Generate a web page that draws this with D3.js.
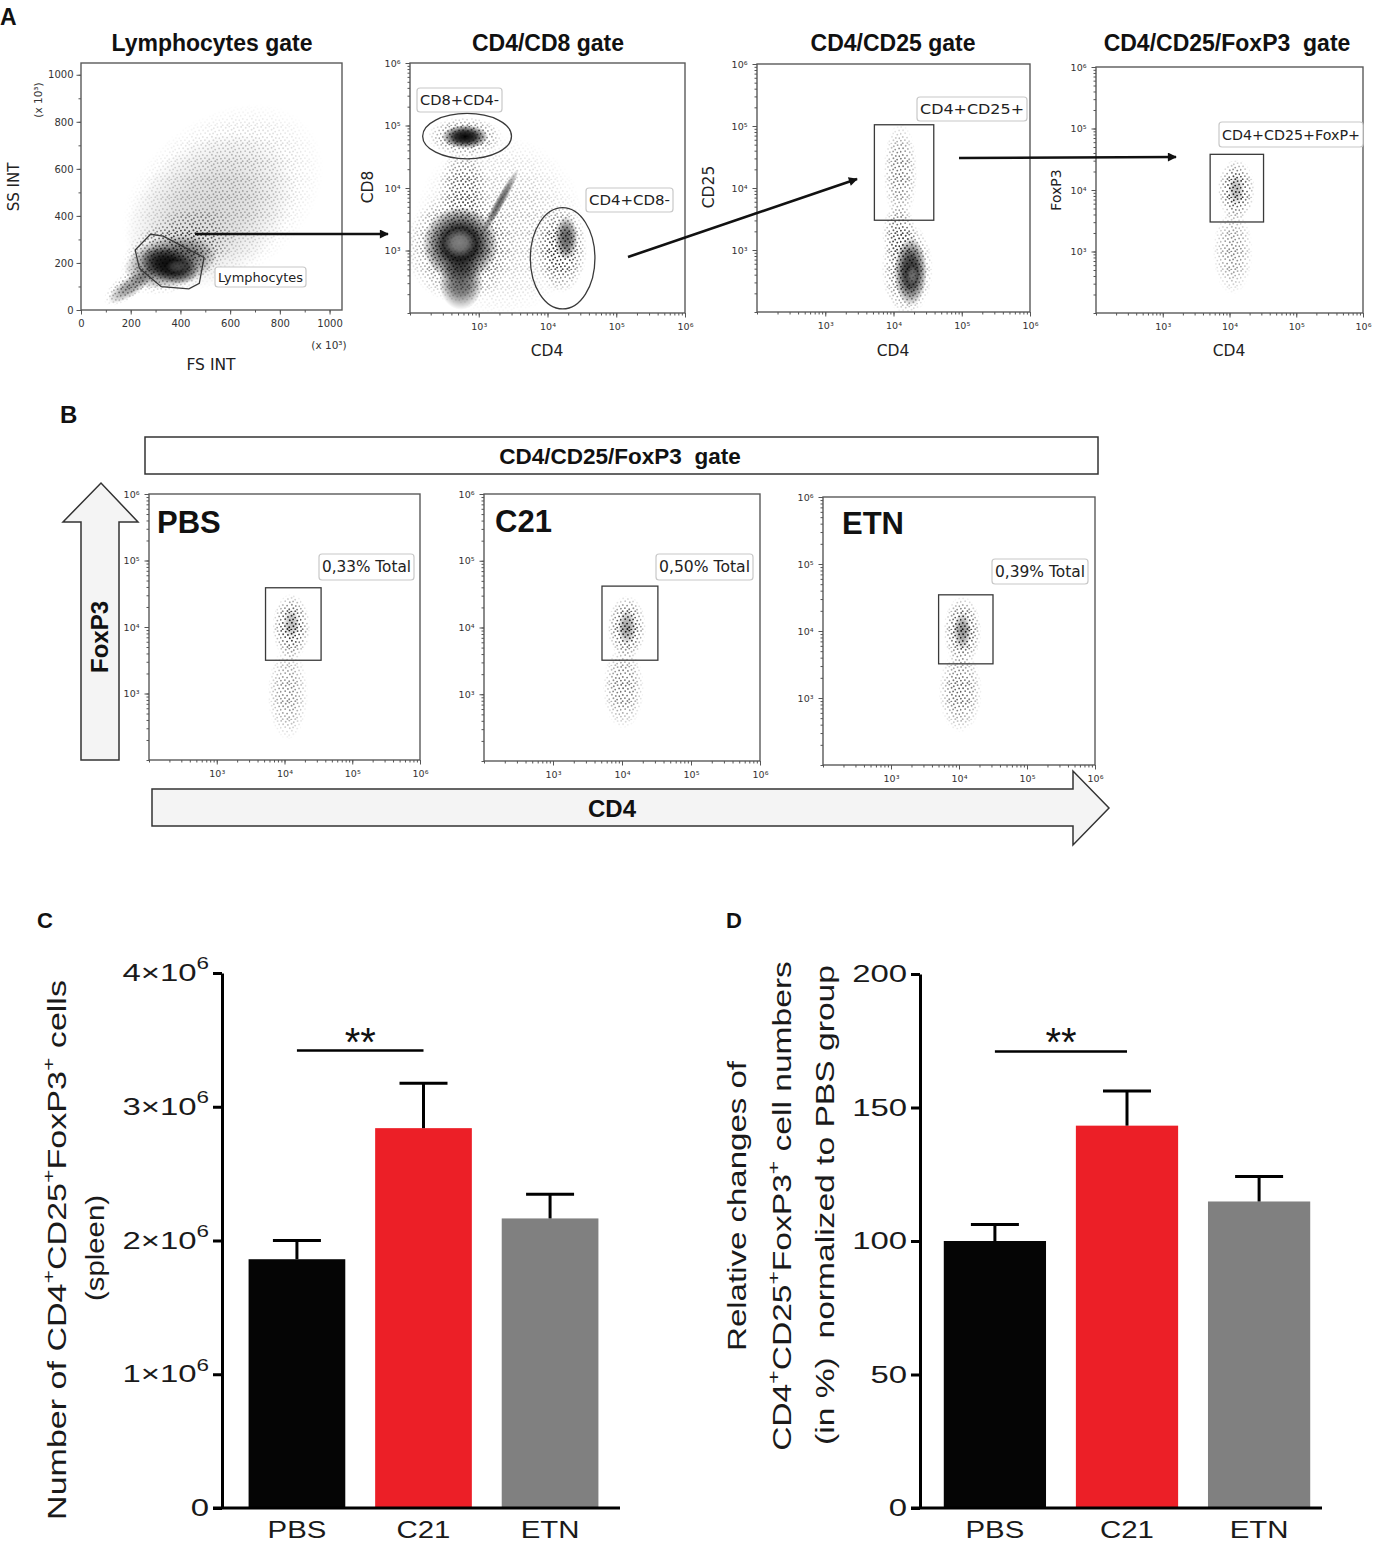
<!DOCTYPE html>
<html>
<head>
<meta charset="utf-8">
<script src="https://cdn.jsdelivr.net/npm/d3@7"></script>
<style>
  body { margin: 0; background: #fff; }
  svg { display: block; }
  svg text { white-space: pre; }
</style>
</head>
<body>
<svg id="fig" width="1373" height="1544"></svg>
<script>
// ---------- data ----------
// panel C / D bar charts
const groups = ['PBS', 'C21', 'ETN'];
const cellCount = [1.86e6, 2.84e6, 2.165e6];
const cellCountErr = [0.14e6, 0.336e6, 0.18e6];
const relChange = [100, 143.2, 114.8];
const relChangeErr = [6.2, 13, 9.4];
const countTicks = [0, 1e6, 2e6, 3e6, 4e6];
const relTicks = [0, 50, 100, 150, 200];
const barColors = ['#050505', '#ec1f27', '#808080'];
const countSig = ['PBS', 'C21', 3.42e6, '**'];
const relSig = ['PBS', 'C21', 171, '**'];

// panel A/B flow plots: density clouds [x, y, rx, ry, rotation, density, kind]
// lymphocytes plot in x10^3 units, the others in log10 units
const lymphClouds = [
  [570, 480, 450, 340, -38, 0.35, 'speck'],
  [520, 420, 380, 290, -38, 0.14, 'smooth'],
  [390, 250, 250, 160, -28, 0.85, 'speck'],
  [360, 205, 190, 110, -12, 0.65, 'smooth'],
  [355, 190, 120, 72, 18, 0.9, 'smooth'],
  [205, 105, 115, 40, -36, 0.4, 'smooth'],
  [200, 110, 130, 55, -36, 0.6, 'speck'],
  [385, 185, 45, 28, 0, 0.2, 'light']
];
const lymphGate = [[280, 322], [331, 314], [495, 223], [476, 113], [434, 90], [323, 99], [235, 177], [218, 255]];

const cd8Clouds = [
  [3.3, 3.4, 1.25, 1.45, 0, 0.35, 'speck'],
  [2.73, 3.05, 0.8, 0.9, 0, 0.95, 'speck'],
  [2.73, 3.1, 0.55, 0.6, 0, 1, 'smooth'],
  [2.74, 2.5, 0.32, 0.45, 0, 0.6, 'smooth'],
  [2.78, 4.0, 0.38, 0.6, 0, 0.7, 'speck'],
  [2.8, 4.82, 0.34, 0.19, 0, 1, 'smooth'],
  [2.8, 4.82, 0.55, 0.32, 0, 0.85, 'speck'],
  [3.31, 3.78, 0.55, 0.075, -61, 0.6, 'smooth'],
  [4.2, 3.02, 0.38, 0.7, 0, 1, 'speck'],
  [4.27, 3.2, 0.17, 0.35, 0, 0.6, 'smooth'],
  [2.72, 3.12, 0.24, 0.24, 0, 0.5, 'light']
];
const cd8Gates = [[2.83, 4.83, 0.646, 0.363], [4.22, 2.875, 0.47, 0.81]];

const cd25Clouds = [
  [4.2, 2.7, 0.38, 0.75, 0, 0.95, 'speck'],
  [4.25, 2.65, 0.24, 0.55, 0, 0.85, 'smooth'],
  [4.08, 3.25, 0.25, 0.5, 0, 0.75, 'speck'],
  [4.1, 4.25, 0.25, 0.8, 0, 0.65, 'speck'],
  [4.27, 2.6, 0.08, 0.16, 0, 0.3, 'light']
];
const cd25Gate = [3.72, 4.59, 3.48, 5.02];

const foxClouds = [
  [4.1, 4.0, 0.28, 0.5, 0, 1, 'speck'],
  [4.1, 4.0, 0.12, 0.24, 0, 0.25, 'smooth'],
  [4.05, 3.0, 0.3, 0.7, 0, 0.55, 'speck']
];
const foxGate = [3.71, 4.51, 3.48, 4.58];

const bGroups = ['PBS', 'C21', 'ETN'];
const bPercent = ['0,33% Total', '0,50% Total', '0,39% Total'];
const bClouds = [
  [[4.1, 4.0, 0.28, 0.5, 0, 1, 'speck'], [4.1, 4.05, 0.12, 0.22, 0, 0.25, 'smooth'], [4.05, 3.0, 0.3, 0.7, 0, 0.55, 'speck']],
  [[4.07, 4.0, 0.28, 0.48, 0, 1, 'speck'], [4.07, 4.0, 0.13, 0.26, 0, 0.35, 'smooth'], [4.02, 3.1, 0.3, 0.62, 0, 0.65, 'speck']],
  [[4.05, 4.0, 0.28, 0.52, 0, 1, 'speck'], [4.05, 4.0, 0.13, 0.28, 0, 0.4, 'smooth'], [4.02, 3.1, 0.32, 0.62, 0, 0.7, 'speck']]
];
const bGates = [[3.72, 4.54, 3.5, 4.59], [3.71, 4.52, 3.51, 4.62], [3.70, 4.50, 3.51, 4.54]];

const logMajor = [1e3, 1e4, 1e5, 1e6];
const linMajor = [0, 200, 400, 600, 800, 1000];

// ---------- setup ----------
const svg = d3.select('#fig');
const defs = svg.append('defs');
const ARIAL = '"Liberation Sans", Arial, Helvetica, sans-serif';
const DEJA = '"DejaVu Sans", Verdana, sans-serif';
const sup = {2: '²', 3: '³', 4: '⁴', 5: '⁵', 6: '⁶'};

function gradient(id, color) {
  const gr = defs.append('radialGradient').attr('id', id);
  [[0, 1], [0.45, 0.8], [0.75, 0.38], [1, 0]].forEach(s =>
    gr.append('stop').attr('offset', s[0]).attr('stop-color', color).attr('stop-opacity', s[1]));
}
gradient('fade', '#000');
gradient('fadeW', '#fff');

// jittered dot tile for the speckled event clouds
const speck = defs.append('pattern').attr('id', 'speck')
  .attr('patternUnits', 'userSpaceOnUse').attr('width', 20).attr('height', 18);
[[1.2, 0.9], [5.7, 1.8], [9.3, 0.6], [13.8, 2.2], [17.6, 1.1],
 [3.1, 4.3], [7.9, 4.9], [11.6, 3.8], [15.2, 5.6], [19.1, 4.4],
 [0.6, 7.8], [5.2, 7.1], [9.8, 8.3], [13.1, 7.4], [17.3, 8.6],
 [2.8, 10.9], [7.1, 11.6], [11.9, 10.7], [15.8, 11.9], [19.4, 12.3],
 [0.9, 14.6], [4.9, 14.1], [9.2, 15.3], [13.4, 14.2], [17.1, 15.6],
 [2.7, 17.3], [7.4, 17.0], [11.3, 17.6], [15.3, 17.2]]
  .forEach(p => speck.append('circle').attr('cx', p[0]).attr('cy', p[1]).attr('r', 0.95).attr('fill', '#151515'));

defs.append('marker').attr('id', 'head').attr('viewBox', '0 0 10 10')
  .attr('refX', 9).attr('refY', 5).attr('markerUnits', 'userSpaceOnUse')
  .attr('markerWidth', 11).attr('markerHeight', 9).attr('orient', 'auto')
  .append('path').attr('d', 'M0,0L10,5L0,10Z').attr('fill', '#111');

function rich(t, segs, fs) {
  let up = false;
  segs.forEach(s => {
    const ts = t.append('tspan').text(s[0]);
    if (s[1] && !up) { ts.attr('font-size', fs * 0.68).attr('dy', -fs * 0.5); up = true; }
    else if (!s[1] && up) { ts.attr('dy', fs * 0.5); up = false; }
  });
  return t;
}

let maskN = 0;
function flowPlot(p) {
  const conv = p.log ? (v => Math.pow(10, v)) : (v => v);
  const xs = (p.log ? d3.scaleLog() : d3.scaleLinear()).domain(p.xd).range([p.x0, p.x1]);
  const ys = (p.log ? d3.scaleLog() : d3.scaleLinear()).domain(p.yd).range([p.y1, p.y0]);
  const g = svg.append('g');
  const cid = 'clip' + p.id;
  defs.append('clipPath').attr('id', cid).append('rect')
    .attr('x', p.x0).attr('y', p.y0).attr('width', p.x1 - p.x0).attr('height', p.y1 - p.y0);
  const cg = g.append('g').attr('clip-path', `url(#${cid})`);

  p.clouds.forEach(c => {
    const cx = xs(conv(c[0])), cy = ys(conv(c[1]));
    const rx = xs(conv(c[0] + c[2])) - cx, ry = cy - ys(conv(c[1] + c[3]));
    const tr = `rotate(${c[4]},${cx},${cy})`;
    if (c[6] === 'speck') {
      const mid = 'mask' + (maskN++);
      defs.append('mask').attr('id', mid).attr('maskUnits', 'userSpaceOnUse')
        .attr('x', 0).attr('y', 0).attr('width', 1373).attr('height', 1544)
        .append('ellipse').attr('cx', cx).attr('cy', cy).attr('rx', rx).attr('ry', ry)
        .attr('transform', tr).attr('fill', 'url(#fadeW)').attr('fill-opacity', c[5]);
      cg.append('rect').attr('x', p.x0).attr('y', p.y0).attr('width', p.x1 - p.x0).attr('height', p.y1 - p.y0)
        .attr('fill', 'url(#speck)').attr('mask', `url(#${mid})`);
    } else {
      cg.append('ellipse').attr('cx', cx).attr('cy', cy).attr('rx', rx).attr('ry', ry)
        .attr('transform', tr).attr('opacity', c[5])
        .attr('fill', c[6] === 'light' ? 'url(#fadeW)' : 'url(#fade)');
    }
  });

  // gates
  const gs = {fill: 'none', stroke: '#3a3a3a', 'stroke-width': 1.3};
  const style = sel => Object.entries(gs).forEach(([k, v]) => sel.attr(k, v));
  if (p.poly) style(g.append('polygon').attr('points', p.poly.map(d => [xs(d[0]), ys(d[1])].join(',')).join(' ')));
  (p.ellipses || []).forEach(e => {
    const cx = xs(conv(e[0])), cy = ys(conv(e[1]));
    style(g.append('ellipse').attr('cx', cx).attr('cy', cy)
      .attr('rx', xs(conv(e[0] + e[2])) - cx).attr('ry', cy - ys(conv(e[1] + e[3]))));
  });
  if (p.rect) {
    const r = p.rect;
    style(g.append('rect').attr('x', xs(conv(r[0]))).attr('y', ys(conv(r[3])))
      .attr('width', xs(conv(r[1])) - xs(conv(r[0]))).attr('height', ys(conv(r[2])) - ys(conv(r[3]))));
  }

  // frame
  g.append('rect').attr('x', p.x0).attr('y', p.y0).attr('width', p.x1 - p.x0).attr('height', p.y1 - p.y0)
    .attr('fill', 'none').attr('stroke', '#5a5a5a').attr('stroke-width', 1.4);

  // axes
  const fmt = p.log ? (d => '10' + sup[Math.round(Math.log10(d))]) : (d => d);
  const major = p.log ? logMajor : linMajor;
  const minor = p.log ? xs.ticks() : d3.range(0, 1001, 100);
  const minorY = p.log ? ys.ticks() : d3.range(0, 1001, 100);
  const fs = p.log ? 9.5 : 10;
  const axX = g.append('g').attr('transform', `translate(0,${p.y1})`);
  axX.append('g').call(d3.axisBottom(xs).tickValues(minor).tickSize(2.5).tickFormat(''));
  axX.append('g').call(d3.axisBottom(xs).tickValues(major).tickSize(4.5).tickPadding(p.log ? 6 : 5).tickFormat(fmt));
  const axY = g.append('g').attr('transform', `translate(${p.x0},0)`);
  axY.append('g').call(d3.axisLeft(ys).tickValues(minorY).tickSize(2.5).tickFormat(''));
  axY.append('g').call(d3.axisLeft(ys).tickValues(major).tickSize(4.5).tickPadding(p.log ? 5 : 3).tickFormat(fmt));
  g.selectAll('.domain').remove();
  g.selectAll('.tick line').attr('stroke', '#555');
  g.selectAll('.tick text').attr('font-size', fs).attr('font-family', DEJA).attr('fill', '#333');
  return {xs, ys};
}

function labelBox(x0, y0, x1, y1, text, fs) {
  svg.append('rect').attr('x', x0).attr('y', y0).attr('width', x1 - x0).attr('height', y1 - y0)
    .attr('rx', 3).attr('fill', '#fff').attr('stroke', '#c8c8c8').attr('stroke-width', 1.2);
  svg.append('text').attr('x', x0 + 3).attr('y', (y0 + y1) / 2 + fs * 0.36)
    .attr('font-family', DEJA).attr('font-size', fs).attr('fill', '#222')
    .attr('textLength', x1 - x0 - 6).attr('lengthAdjust', 'spacingAndGlyphs').text(text);
}

function txt(x, y, s, fs, opts = {}) {
  const t = svg.append('text').attr('x', x).attr('y', y).attr('font-size', fs)
    .attr('font-family', opts.font || ARIAL).attr('font-weight', opts.bold ? 'bold' : null)
    .attr('text-anchor', opts.anchor || 'middle').attr('fill', opts.fill || '#111').text(s);
  if (opts.rot) t.attr('x', null).attr('y', null).attr('transform', `translate(${x},${y}) rotate(-90)`);
  return t;
}

// ---------- panel A ----------
txt(0, 25, 'A', 23, {bold: true, anchor: 'start'});
[['Lymphocytes gate', 212], ['CD4/CD8 gate', 548], ['CD4/CD25 gate', 893], ['CD4/CD25/FoxP3  gate', 1227]]
  .forEach(d => txt(d[1], 51, d[0], 23, {bold: true}));

flowPlot({id: 1, log: false, x0: 81, x1: 342, y0: 63, y1: 310, xd: [0, 1050], yd: [0, 1050],
  clouds: lymphClouds, poly: lymphGate});
txt(14, 187, 'SS INT', 15, {font: DEJA, rot: true, fill: '#222'}).attr('dy', '0.35em');
txt(38, 100, '(x 10³)', 10.5, {font: DEJA, rot: true, fill: '#333'}).attr('dy', '0.35em');
txt(211, 370, 'FS INT', 15.5, {font: DEJA, fill: '#222'});
txt(329, 349, '(x 10³)', 10.5, {font: DEJA, fill: '#333'});
labelBox(215, 267, 306, 287, 'Lymphocytes', 13);

flowPlot({id: 2, log: true, x0: 410, x1: 685, y0: 63, y1: 313, xd: [100, 1e6], yd: [100, 1e6],
  clouds: cd8Clouds, ellipses: cd8Gates});
txt(368, 187, 'CD8', 15.5, {font: DEJA, rot: true, fill: '#222'}).attr('dy', '0.35em');
txt(547, 356, 'CD4', 15.5, {font: DEJA, fill: '#222'});
labelBox(417, 88, 502, 112, 'CD8+CD4-', 14.5);
labelBox(586, 188, 673, 212, 'CD4+CD8-', 14.5);

flowPlot({id: 3, log: true, x0: 757, x1: 1030, y0: 64, y1: 312, xd: [100, 1e6], yd: [100, 1e6],
  clouds: cd25Clouds, rect: cd25Gate});
txt(709, 187, 'CD25', 15.5, {font: DEJA, rot: true, fill: '#222'}).attr('dy', '0.35em');
txt(893, 356, 'CD4', 15.5, {font: DEJA, fill: '#222'});
labelBox(917, 97, 1027, 121, 'CD4+CD25+', 14.5);

flowPlot({id: 4, log: true, x0: 1096, x1: 1363, y0: 67, y1: 313, xd: [100, 1e6], yd: [100, 1e6],
  clouds: foxClouds, rect: foxGate});
txt(1056, 190, 'FoxP3', 14, {font: DEJA, rot: true, fill: '#222'}).attr('dy', '0.35em');
txt(1229, 356, 'CD4', 15.5, {font: DEJA, fill: '#222'});
labelBox(1219, 122, 1363, 147, 'CD4+CD25+FoxP+', 14);

// arrows between gates
[[195, 234, 388, 234], [628, 257, 857, 179], [959, 158, 1176, 157]].forEach(a =>
  svg.append('line').attr('x1', a[0]).attr('y1', a[1]).attr('x2', a[2]).attr('y2', a[3])
    .attr('stroke', '#111').attr('stroke-width', 2.6).attr('marker-end', 'url(#head)'));

// ---------- panel B ----------
txt(60, 423, 'B', 24, {bold: true, anchor: 'start'});
svg.append('rect').attr('x', 145).attr('y', 437).attr('width', 953).attr('height', 37)
  .attr('fill', '#fff').attr('stroke', '#333').attr('stroke-width', 1.5);
txt(620, 464, 'CD4/CD25/FoxP3  gate', 22.5, {bold: true});

svg.append('polygon').attr('points', '81,760 81,522 63,522 101,483 138,522 119,522 119,760')
  .attr('fill', '#f4f4f4').attr('stroke', '#333').attr('stroke-width', 1.5);
txt(108, 637, 'FoxP3', 24, {bold: true, rot: true});
svg.append('polygon').attr('points', '152,789 1073,789 1073,771 1109,808 1073,845 1073,826 152,826')
  .attr('fill', '#f4f4f4').attr('stroke', '#333').attr('stroke-width', 1.5);

const bFrames = [[149, 420, 494, 760], [484, 760, 494, 761], [823, 1095, 497, 765]];
const bBoxes = [[319, 554, 414, 580], [656, 554, 753, 580], [992, 559, 1088, 584]];
const bTitle = [[157, 533], [495, 532], [842, 534]];
bGroups.forEach((name, i) => {
  const f = bFrames[i];
  flowPlot({id: 'b' + i, log: true, x0: f[0], x1: f[1], y0: f[2], y1: f[3], xd: [100, 1e6], yd: [100, 1e6],
    clouds: bClouds[i], rect: bGates[i]});
  txt(bTitle[i][0], bTitle[i][1], name, 31, {bold: true, anchor: 'start'});
  labelBox(bBoxes[i][0], bBoxes[i][1], bBoxes[i][2], bBoxes[i][3], bPercent[i], 15);
});
txt(612, 817, 'CD4', 24, {bold: true});

// ---------- panels C / D ----------
function stretchTicks(sel, k) {
  sel.selectAll('.tick text').each(function () {
    const t = d3.select(this);
    t.attr('x', (+t.attr('x') || 0) / k).attr('transform', `scale(${k},1)`);
  });
}

function rotLabel(x, y, segs, fs, len) {
  const t = svg.append('text').attr('font-size', fs).attr('font-family', ARIAL)
    .attr('text-anchor', 'middle').attr('fill', '#1a1a1a');
  rich(t, segs, fs);
  const k = len / t.node().getComputedTextLength();
  t.attr('transform', `translate(${x},${y}) rotate(-90) scale(${k},1)`);
}

function barPanel(p) {
  const y = d3.scaleLinear().domain([p.ticks[0], p.ticks[p.ticks.length - 1]]).range([p.yBottom, p.yTop]);
  const x = d3.scaleBand().domain(groups).range([p.axisX, p.xEnd]).paddingInner(p.padIn).paddingOuter(p.padOut);
  const g = svg.append('g');

  g.selectAll('rect.bar').data(p.values).join('rect').attr('class', 'bar')
    .attr('x', (d, i) => x(groups[i])).attr('width', x.bandwidth())
    .attr('y', d => y(d)).attr('height', d => y(0) - y(d))
    .attr('fill', (d, i) => barColors[i]);

  const eb = g.selectAll('g.err').data(p.values).join('g').attr('class', 'err')
    .attr('transform', (d, i) => `translate(${x(groups[i]) + x.bandwidth() / 2},0)`);
  eb.append('line').attr('y1', d => y(d)).attr('y2', (d, i) => y(d + p.errs[i]))
    .attr('stroke', '#000').attr('stroke-width', 3);
  eb.append('line').attr('x1', -24).attr('x2', 24)
    .attr('y1', (d, i) => y(d + p.errs[i])).attr('y2', (d, i) => y(d + p.errs[i]))
    .attr('stroke', '#000').attr('stroke-width', 3);

  // y axis
  const ay = g.append('g').attr('transform', `translate(${p.axisX},0)`)
    .call(d3.axisLeft(y).tickValues(p.ticks).tickSize(9).tickPadding(4).tickSizeOuter(0).tickFormat(''));
  ay.select('.domain').attr('stroke', '#000').attr('stroke-width', 3);
  ay.selectAll('.tick line').attr('stroke', '#000').attr('stroke-width', 3);
  ay.selectAll('.tick text').attr('font-size', 23.5).attr('font-family', ARIAL).attr('fill', '#1a1a1a')
    .each(function (d) { rich(d3.select(this), p.tickSegs(d), 23.5); });
  stretchTicks(ay, 1.4);

  // x axis: baseline and category labels
  g.append('line').attr('x1', p.axisX - 9).attr('x2', p.baseEnd).attr('y1', y(0)).attr('y2', y(0))
    .attr('stroke', '#000').attr('stroke-width', 3);
  const ax = g.append('g').attr('transform', `translate(0,${y(0)})`)
    .call(d3.axisBottom(x).tickSize(0).tickPadding(13));
  ax.select('.domain').remove();
  ax.selectAll('.tick text').attr('font-size', 23.5).attr('font-family', ARIAL).attr('fill', '#1a1a1a')
    .attr('dy', '0.71em');
  stretchTicks(ax, 1.25);

  // significance bracket
  const s = p.sig;
  const sx1 = x(s[0]) + x.bandwidth() / 2, sx2 = x(s[1]) + x.bandwidth() / 2;
  g.append('line').attr('x1', sx1).attr('x2', sx2).attr('y1', y(s[2])).attr('y2', y(s[2]))
    .attr('stroke', '#000').attr('stroke-width', 2.5);
  g.append('text').attr('x', (sx1 + sx2) / 2).attr('y', y(s[2]) + 5).attr('text-anchor', 'middle')
    .attr('font-family', ARIAL).attr('font-size', 40).attr('fill', '#111').text(s[3]);
}

txt(37, 928, 'C', 22, {bold: true, anchor: 'start'});
barPanel({values: cellCount, errs: cellCountErr, ticks: countTicks, yTop: 973, yBottom: 1508,
  axisX: 222, xEnd: 625, padIn: 0.236, padOut: 0.21, baseEnd: 620, sig: countSig,
  tickSegs: d => d === 0 ? [['0', 0]] : [[(d / 1e6) + '×10', 0], ['6', 1]]});
rotLabel(66, 1250, [['Number of CD4', 0], ['+', 1], ['CD25', 0], ['+', 1], ['FoxP3', 0], ['+', 1], [' cells', 0]], 25, 540);
rotLabel(104, 1248, [['(spleen)', 0]], 25, 106);

txt(726, 928, 'D', 22, {bold: true, anchor: 'start'});
barPanel({values: relChange, errs: relChangeErr, ticks: relTicks, yTop: 974, yBottom: 1508,
  axisX: 920, xEnd: 1334, padIn: 0.226, padOut: 0.18, baseEnd: 1322, sig: relSig,
  tickSegs: d => [[String(d), 0]]});
rotLabel(746, 1206, [['Relative changes of', 0]], 25, 290);
rotLabel(791, 1206, [['CD4', 0], ['+', 1], ['CD25', 0], ['+', 1], ['FoxP3', 0], ['+', 1], [' cell numbers', 0]], 25, 490);
rotLabel(834, 1205, [['(in %)  normalized to PBS group', 0]], 25, 480);
</script>
</body>
</html>
